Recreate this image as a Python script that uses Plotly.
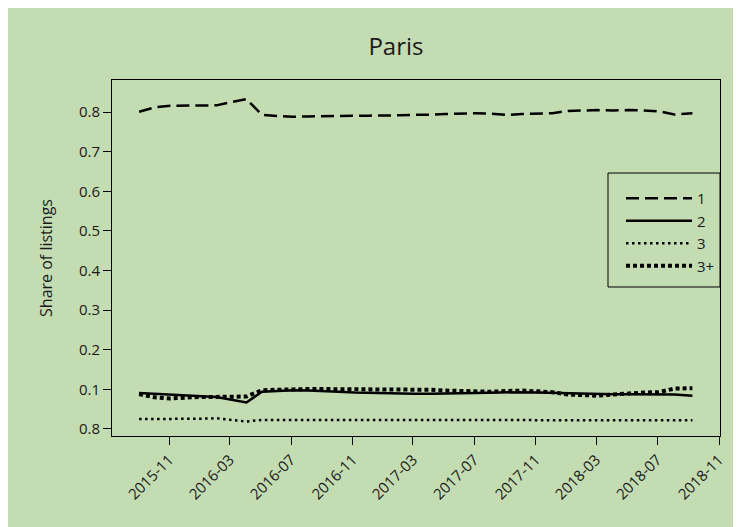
import plotly.graph_objects as go

dates = ["2015-09-02", "2015-10-03", "2015-11-03", "2015-12-03", "2016-01-03", "2016-02-03",
         "2016-04-03", "2016-05-04", "2016-06-04", "2016-07-04", "2016-08-04", "2016-09-04",
         "2016-10-04", "2016-11-04", "2016-12-04", "2017-01-04", "2017-02-04", "2017-03-04",
         "2017-04-04", "2017-05-04", "2017-06-04", "2017-07-04", "2017-08-04", "2017-09-04",
         "2017-10-04", "2017-11-04", "2017-12-04", "2018-01-04", "2018-02-04", "2018-03-04",
         "2018-04-04", "2018-05-04", "2018-06-04", "2018-07-04", "2018-08-04", "2018-09-09"]

share_1 = [0.801, 0.812, 0.816, 0.816, 0.816, 0.817, 0.833, 0.793, 0.790, 0.788, 0.789, 0.790,
           0.791, 0.791, 0.791, 0.791, 0.792, 0.793, 0.793, 0.795, 0.796, 0.797, 0.796, 0.793,
           0.795, 0.796, 0.797, 0.803, 0.805, 0.805, 0.804, 0.805, 0.804, 0.802, 0.794, 0.797]

share_2 = [0.091, 0.089, 0.088, 0.086, 0.084, 0.081, 0.067, 0.094, 0.096, 0.098, 0.097, 0.096,
           0.094, 0.092, 0.091, 0.090, 0.089, 0.089, 0.089, 0.089, 0.090, 0.091, 0.092, 0.093,
           0.093, 0.092, 0.091, 0.090, 0.089, 0.089, 0.088, 0.088, 0.088, 0.088, 0.087, 0.084]

share_3 = [0.025, 0.025, 0.025, 0.026, 0.026, 0.027, 0.019, 0.023, 0.023, 0.023, 0.023, 0.023,
           0.023, 0.023, 0.023, 0.023, 0.023, 0.023, 0.023, 0.023, 0.023, 0.023, 0.023, 0.023,
           0.023, 0.023, 0.023, 0.023, 0.023, 0.023, 0.022, 0.022, 0.022, 0.022, 0.022, 0.022]

share_3plus = [0.088, 0.080, 0.077, 0.080, 0.081, 0.081, 0.082, 0.098, 0.100, 0.100, 0.101, 0.101,
               0.101, 0.101, 0.101, 0.101, 0.101, 0.100, 0.099, 0.097, 0.096, 0.095, 0.094, 0.096,
               0.097, 0.095, 0.093, 0.087, 0.085, 0.084, 0.087, 0.090, 0.092, 0.093, 0.102, 0.103]

series_names = ["1", "2", "3", "3+"]

y_tickvals = [0.0, 0.1, 0.2, 0.3, 0.4, 0.5, 0.6, 0.7, 0.8]
y_ticktext = ["0.8", "0.1", "0.2", "0.3", "0.4", "0.5", "0.6", "0.7", "0.8"]

x_tickvals = ["2015-11-01", "2016-03-01", "2016-07-01", "2016-11-01", "2017-03-01", "2017-07-01",
              "2017-11-01", "2018-03-01", "2018-07-01", "2018-11-01"]
x_ticktext = ["2015-11", "2016-03", "2016-07", "2016-11", "2017-03", "2017-07",
              "2017-11", "2018-03", "2018-07", "2018-11"]

BG = "#c4dcb2"
FONT = "Open Sans"
TXT = "#1a1a1a"

# figure geometry (page draws the figure 8px in from the top-left)
W, H = 733, 519
L, T, PW, PH = 104, 72, 608, 356

fig = go.Figure()
styles = [
    dict(color="black", width=2.5, dash="13px,6px"),
    dict(color="black", width=2.5, dash="solid"),
    dict(color="black", width=2.5, dash="2.5px,3.5px"),
    dict(color="black", width=4, dash="4px,3px"),
]
for name, vals, st in zip(series_names, [share_1, share_2, share_3, share_3plus], styles):
    fig.add_trace(go.Scatter(x=dates, y=vals, mode="lines", name=name, line=st))


def px_x(v):
    return (v - L) / PW


def px_y(v):
    return (T + PH - v) / PH


fig.update_layout(
    width=W, height=H,
    margin=dict(l=L, r=W - L - PW, t=T, b=H - T - PH, autoexpand=False),
    paper_bgcolor="white",
    plot_bgcolor=BG,
    font=dict(family=FONT, size=14, color=TXT),
    title=dict(text="Paris", x=0.467, xref="paper", xanchor="center",
               y=1 - 39 / H, yref="container", yanchor="middle",
               font=dict(family=FONT, size=24, color=TXT)),
    showlegend=True,
    legend=dict(x=px_x(613), y=px_y(174), xanchor="left", yanchor="top",
                bgcolor="rgba(0,0,0,0)", borderwidth=0, itemwidth=66,
                font=dict(family=FONT, size=15, color=TXT), tracegroupgap=0),
    shapes=[
        dict(type="rect", xref="paper", yref="paper",
             x0=px_x(-5), x1=px_x(W + 2), y0=px_y(H + 2), y1=px_y(-1),
             fillcolor=BG, line=dict(width=0), layer="below"),
        dict(type="rect", xref="paper", yref="paper",
             x0=px_x(600), x1=1.0, y0=px_y(279), y1=px_y(165),
             fillcolor="rgba(0,0,0,0)", line=dict(color="black", width=1), layer="above"),
    ],
)

fig.update_xaxes(
    type="date", range=["2015-07-10", "2018-11-03"],
    tickvals=x_tickvals, ticktext=x_ticktext, tickangle=-45,
    showgrid=False, zeroline=False,
    showline=True, linecolor="black", linewidth=1, mirror=True,
    ticks="outside", ticklen=8, tickcolor="black", tickwidth=1,
    tickfont=dict(family=FONT, size=15, color=TXT),
)
fig.update_yaxes(
    range=[-0.0177, 0.881],
    tickvals=y_tickvals, ticktext=y_ticktext,
    showgrid=False, zeroline=False,
    showline=True, linecolor="black", linewidth=1, mirror=True,
    ticks="outside", ticklen=8, tickcolor="black", tickwidth=1,
    tickfont=dict(family=FONT, size=15, color=TXT),
    title=dict(text="Share of listings", font=dict(family=FONT, size=16, color=TXT), standoff=22),
)

fig.write_html("out.html")
